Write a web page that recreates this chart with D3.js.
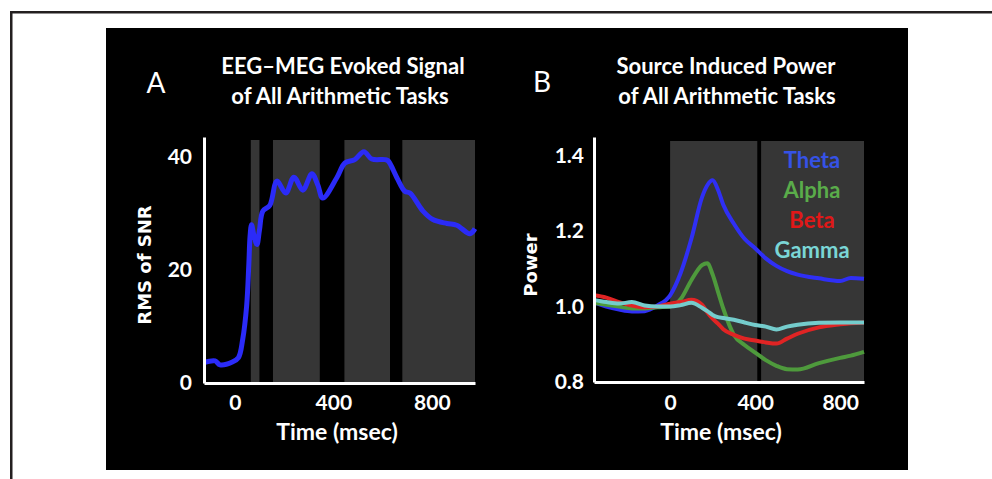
<!DOCTYPE html>
<html>
<head>
<meta charset="utf-8">
<script src="https://cdn.jsdelivr.net/npm/d3@7"></script>
<style>
  body { margin: 0; background: #fff; }
  text { font-family: Lato, "Open Sans", sans-serif; fill: #fff; }
</style>
</head>
<body>
<div id="graph"></div>
<script>
var w = 992
var h = 479

// panel A: evoked signal (time in msec, RMS of SNR)
var timeA = [-125, -80, -60, -10, 15, 32, 48, 57, 62, 68, 78, 90, 100, 114, 142, 171, 207, 240, 276, 313, 337, 357, 414, 447, 487, 524, 556, 609, 622, 658, 690, 711, 764, 804, 861, 901, 954, 975]
var rmsA = [3.6, 3.9, 3.2, 3.7, 4.5, 7.7, 13.6, 21, 26, 28, 26, 24.5, 27, 30.4, 31.4, 35.7, 33.6, 36.4, 34.1, 37, 35, 32.7, 36.3, 38.9, 39.5, 40.9, 39.6, 39.5, 39.3, 36.3, 33.9, 33.6, 30.4, 28.9, 28.2, 27.9, 26.4, 27.3]
var bandsA = [[65, 100], [155, 345], [445, 630], [680, 975]]
var ticksAx = [0, 400, 800]
var ticksAy = [0, 20, 40]

// panel B: induced power per band
var timeB = [-360, -300, -240, -180, -120, -60, 0, 50, 100, 150, 175, 200, 225, 250, 300, 350, 400, 450, 500, 550, 600, 700, 800, 850, 912]
var theta = [1.012, 1.0, 0.992, 0.987, 0.988, 1.003, 1.03, 1.09, 1.18, 1.29, 1.322, 1.335, 1.31, 1.27, 1.22, 1.18, 1.155, 1.128, 1.108, 1.094, 1.085, 1.075, 1.068, 1.076, 1.074]
var alpha = [1.01, 1.005, 1.0, 0.995, 0.995, 0.998, 1.0, 1.02, 1.07, 1.11, 1.115, 1.085, 1.04, 0.995, 0.925, 0.898, 0.878, 0.858, 0.843, 0.834, 0.833, 0.85, 0.864, 0.87, 0.88]
var beta = [1.03, 1.024, 1.012, 1.003, 0.998, 1.0, 1.008, 1.012, 1.018, 1.005, 0.985, 0.968, 0.955, 0.94, 0.925, 0.915, 0.91, 0.905, 0.902, 0.915, 0.928, 0.945, 0.953, 0.956, 0.958]
var gamma = [1.018, 1.012, 1.008, 1.012, 1.003, 1.0, 1.0, 1.004, 1.01, 0.997, 0.988, 0.978, 0.972, 0.97, 0.965, 0.958, 0.951, 0.947, 0.939, 0.947, 0.952, 0.957, 0.958, 0.958, 0.958]
var bandsB = [[0, 410], [428, 912]]
var ticksBx = [0, 400, 800]
var ticksBy = [0.8, 1.0, 1.2, 1.4]

var names = ["Theta", "Alpha", "Beta", "Gamma"]
var lineColors = ["#2f2ff5", "#4e9a3c", "#e02424", "#74cccc"]
var legendColors = ["#3552e6", "#5aac4a", "#e01818", "#7ad6d6"]

var svg = d3.select("#graph").append("svg")
    .attr("width", w)
    .attr("height", h)

// page frame lines
svg.append("rect").attr("x", 10).attr("y", 11).attr("width", w - 10).attr("height", 2.5).attr("fill", "#231f20")
svg.append("rect").attr("x", 10).attr("y", 11).attr("width", 2.5).attr("height", h - 11).attr("fill", "#231f20")

// black figure background
svg.append("rect").attr("x", 106).attr("y", 28).attr("width", 802).attr("height", 442).attr("fill", "#000")

// ---------- panel A ----------
var xA = d3.scaleLinear().domain([-125, 975]).range([204, 475])
var yA = d3.scaleLinear().domain([0, 43.5]).range([383, 137])

var gA = svg.append("g")

gA.selectAll(".band").data(bandsA).enter().append("rect")
    .attr("x", function (d) { return xA(d[0]) })
    .attr("y", yA.range()[1] + 3)
    .attr("width", function (d) { return xA(d[1]) - xA(d[0]) })
    .attr("height", yA(0) - yA.range()[1] - 3)
    .attr("fill", "#363636")

gA.append("path")
    .datum(d3.zip(timeA, rmsA))
    .attr("d", d3.line().x(function (d) { return xA(d[0]) }).y(function (d) { return yA(d[1]) }).curve(d3.curveCatmullRom))
    .attr("fill", "none")
    .attr("stroke", "#2b2bf8")
    .attr("stroke-width", 5)
    .attr("stroke-linejoin", "round")

var axA = gA.append("g").attr("transform", "translate(0," + yA(0) + ")")
    .call(d3.axisBottom(xA).tickValues(ticksAx).tickSize(0).tickPadding(12))
var ayA = gA.append("g").attr("transform", "translate(" + xA.range()[0] + ",0)")
    .call(d3.axisLeft(yA).tickValues(ticksAy).tickSize(0).tickPadding(12))

// ---------- panel B ----------
var xB = d3.scaleLinear().domain([-358, 912]).range([594, 864])
var yB = d3.scaleLinear().domain([0.8, 1.45]).range([382, 137])

var gB = svg.append("g")

gB.selectAll(".band").data(bandsB).enter().append("rect")
    .attr("x", function (d) { return xB(d[0]) })
    .attr("y", yB.range()[1] + 4)
    .attr("width", function (d) { return xB(d[1]) - xB(d[0]) })
    .attr("height", yB(0.8) - yB.range()[1] - 4)
    .attr("fill", "#363636")

var series = [theta, alpha, beta, gamma]
var lineB = d3.line().x(function (d) { return xB(d[0]) }).y(function (d) { return yB(d[1]) }).curve(d3.curveMonotoneX)
series.forEach(function (s, i) {
    gB.append("path")
        .datum(d3.zip(timeB, s))
        .attr("d", lineB)
        .attr("fill", "none")
        .attr("stroke", lineColors[i])
        .attr("stroke-width", 4)
        .attr("stroke-linejoin", "round")
})

// legend text inside the right band
gB.selectAll(".legend").data(names).enter().append("text")
    .attr("x", 812)
    .attr("y", function (d, i) { return 160 + i * 30 })
    .attr("dy", "0.35em")
    .attr("text-anchor", "middle")
    .style("font-size", "22px")
    .style("font-weight", 700)
    .style("fill", function (d, i) { return legendColors[i] })
    .text(function (d) { return d })

var axB = gB.append("g").attr("transform", "translate(0," + yB(0.8) + ")")
    .call(d3.axisBottom(xB).tickValues(ticksBx).tickSize(0).tickPadding(13))
var ayB = gB.append("g").attr("transform", "translate(" + xB.range()[0] + ",0)")
    .call(d3.axisLeft(yB).tickValues(ticksBy).tickFormat(d3.format(".1f")).tickSize(0).tickPadding(10))

// axis styling: white lines, bold labels
svg.selectAll(".domain").attr("stroke", "#fff").attr("stroke-width", 3)
svg.selectAll(".tick text")
    .attr("fill", "#fff")
    .style("font-family", "Lato, sans-serif")
    .style("font-size", "21px")
    .style("font-weight", 700)

// titles and axis labels
function label(x, y, txt, size, weight, rot, family) {
    var t = svg.append("text")
        .attr("text-anchor", "middle")
        .attr("dy", "0.35em")
        .style("font-size", size + "px")
        .style("font-weight", weight)
        .text(txt)
    if (family) t.style("font-family", family)
    if (rot) t.attr("transform", "translate(" + x + "," + y + ") rotate(-90)")
    else t.attr("x", x).attr("y", y)
}

label(156, 83, "A", 28, 400)
label(343, 66, "EEG\u2013MEG  Evoked Signal", 22, 700)
label(340, 96, "of All Arithmetic Tasks", 22, 700)
label(337, 432, "Time (msec)", 23, 700)
label(145, 265, "RMS of SNR", 18, 700, true, "DejaVu Sans")

label(542, 82, "B", 28, 400)
label(726, 66, "Source Induced Power", 22, 700)
label(727, 96, "of All Arithmetic Tasks", 22, 700)
label(721, 432, "Time (msec)", 23, 700)
label(531, 265, "Power", 18, 700, true, "DejaVu Sans")
</script>
</body>
</html>
